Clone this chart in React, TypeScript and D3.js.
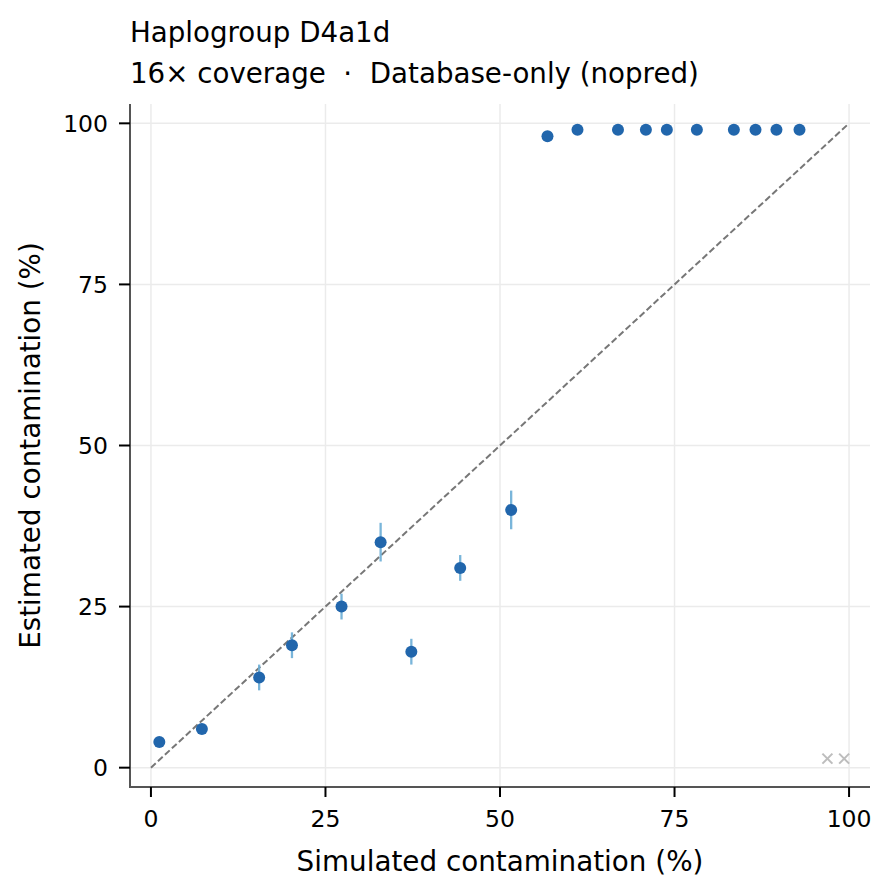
import React from "react";
import * as d3 from "d3";

const simulated = [1.2, 7.3, 15.5, 20.2, 27.3, 32.9, 37.3, 44.3, 51.6, 56.8, 61.1, 66.9, 70.9, 73.9, 78.2, 83.5, 86.6, 89.6, 92.9];
const estimated = [4, 6, 14, 19, 25, 35, 18, 31, 40, 98, 99, 99, 99, 99, 99, 99, 99, 99, 99];
const errLow = [4, 6, 12, 17, 23, 32, 16, 29, 37, 98, 99, 99, 99, 99, 99, 99, 99, 99, 99];
const errHigh = [4, 6, 16, 21, 27, 38, 20, 33, 43, 98, 99, 99, 99, 99, 99, 99, 99, 99, 99];
const failedX = [96.9, 99.3];
const failedY = [1.4, 1.4];
const ticks = [0, 25, 50, 75, 100];
const title1 = "Haplogroup D4a1d";
const title2 = "16× coverage  ·  Database-only (nopred)";
const xLabel = "Simulated contamination (%)";
const yLabel = "Estimated contamination (%)";

const W = 894;
const H = 893;
const L = 130, R = 870, T = 104, B = 787;
const font = "DejaVu Sans, sans-serif";

export default function App() {
  const x = d3.scaleLinear().domain([-3, 103]).range([L, R]);
  const y = d3.scaleLinear().domain([-3, 103]).range([B, T]);
  const idLine = d3.line<number>().x((d) => x(d)).y((d) => y(d));
  return (
    <svg width={W} height={H} style={{ position: "absolute", left: 0, top: 0, background: "#fff" }} fontFamily={font}>
      <rect x={0} y={0} width={W} height={H} fill="#fff" />
      {ticks.map((t) => (
        <line key={"gx" + t} x1={x(t)} x2={x(t)} y1={T} y2={B} stroke="#ebebeb" strokeWidth={1.5} />
      ))}
      {ticks.map((t) => (
        <line key={"gy" + t} x1={L} x2={R} y1={y(t)} y2={y(t)} stroke="#ebebeb" strokeWidth={1.5} />
      ))}
      <path d={idLine([0, 100]) as string} stroke="#777" strokeWidth={2} strokeDasharray="6.5,3" fill="none" />
      {simulated.map((s, i) =>
        errHigh[i] > errLow[i] ? (
          <line key={"e" + i} x1={x(s)} x2={x(s)} y1={y(errLow[i])} y2={y(errHigh[i])} stroke="#6baed6" strokeWidth={2.3} opacity={0.9} />
        ) : null
      )}
      {simulated.map((s, i) => (
        <circle key={"p" + i} cx={x(s)} cy={y(estimated[i])} r={6} fill="#2166ac" />
      ))}
      {failedX.map((fx, i) => {
        const cx = x(fx), cy = y(failedY[i]), s = 5;
        return (
          <g key={"f" + i} stroke="#bdbdbd" strokeWidth={2}>
            <line x1={cx - s} x2={cx + s} y1={cy - s} y2={cy + s} />
            <line x1={cx - s} x2={cx + s} y1={cy + s} y2={cy - s} />
          </g>
        );
      })}
      <line x1={L} x2={L} y1={T} y2={B + 1} stroke="#555" strokeWidth={2} />
      <line x1={L - 1} x2={R} y1={B} y2={B} stroke="#555" strokeWidth={2} />
      {ticks.map((t) => (
        <g key={"tx" + t}>
          <line x1={x(t)} x2={x(t)} y1={B} y2={B + 10} stroke="#000" strokeWidth={2} />
          <text x={x(t)} y={827} textAnchor="middle" fontSize={23.5} fill="#000">{t}</text>
        </g>
      ))}
      {ticks.map((t) => (
        <g key={"ty" + t}>
          <line x1={L - 11} x2={L} y1={y(t)} y2={y(t)} stroke="#000" strokeWidth={2} />
          <text x={108} y={y(t)} dy="0.36em" textAnchor="end" fontSize={23.5} fill="#000">{t}</text>
        </g>
      ))}
      <text x={(L + R) / 2} y={871} textAnchor="middle" fontSize={27.8} fill="#000">{xLabel}</text>
      <text transform={`translate(40,${(T + B) / 2}) rotate(-90)`} textAnchor="middle" fontSize={27.8} fill="#000">{yLabel}</text>
      <text x={130} y={42} fontSize={27.7} fill="#000">{title1}</text>
      <text x={130} y={83} fontSize={27.7} fill="#000" style={{ whiteSpace: "pre" }}>{title2}</text>
    </svg>
  );
}
